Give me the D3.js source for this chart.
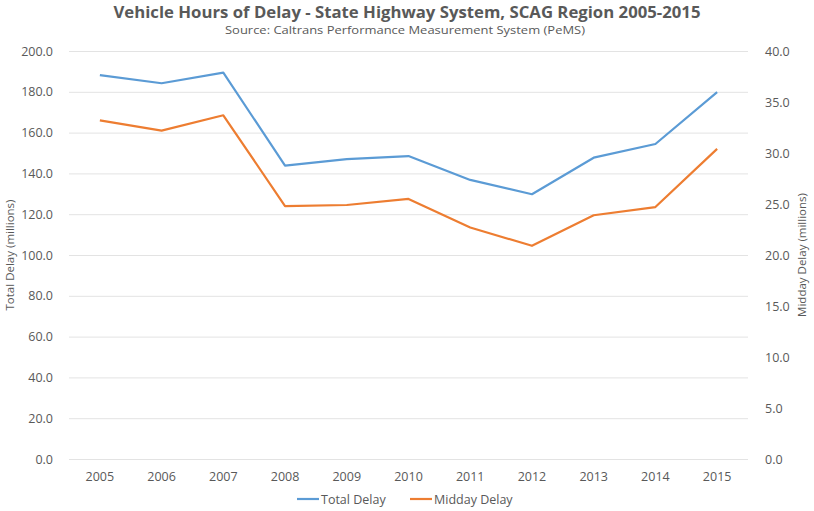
<!DOCTYPE html>
<html>
<head>
<meta charset="utf-8">
<script src="https://cdn.jsdelivr.net/npm/d3@7"></script>
<style>
  body { margin: 0; background: #fff; }
  text { font-family: "Open Sans", "Liberation Sans", sans-serif; fill: #595959; }
</style>
</head>
<body>
<svg id="chart" width="814" height="511"></svg>
<script>
// data
var years = ["2005", "2006", "2007", "2008", "2009", "2010", "2011", "2012", "2013", "2014", "2015"];
var totalDelay = [188.2, 184.2, 189.4, 143.8, 147.0, 148.5, 136.8, 129.8, 147.7, 154.4, 179.8];
var middayDelay = [33.2, 32.2, 33.7, 24.8, 24.9, 25.5, 22.7, 20.9, 23.9, 24.7, 30.4];
var leftTicks = [0, 20, 40, 60, 80, 100, 120, 140, 160, 180, 200];
var rightTicks = [0, 5, 10, 15, 20, 25, 30, 35, 40];

var svg = d3.select("#chart");
var plotLeft = 69, plotRight = 748, plotTop = 51, plotBottom = 459;

var x = d3.scaleBand().domain(years).range([plotLeft, plotRight]);
var yL = d3.scaleLinear().domain([0, 200]).range([plotBottom, plotTop]);
var yR = d3.scaleLinear().domain([0, 40]).range([plotBottom, plotTop]);

// title
svg.append("text").attr("x", 407).attr("y", 18).attr("text-anchor", "middle")
    .attr("font-size", 16.5).attr("font-weight", "bold")
    .attr("textLength", 587).attr("lengthAdjust", "spacingAndGlyphs")
    .text("Vehicle Hours of Delay - State Highway System, SCAG Region 2005-2015");
svg.append("text").attr("x", 405).attr("y", 33.5).attr("text-anchor", "middle")
    .attr("font-size", 10.5)
    .attr("textLength", 360).attr("lengthAdjust", "spacingAndGlyphs")
    .text("Source: Caltrans Performance Measurement System (PeMS)");

// gridlines
svg.append("g").selectAll("line").data(leftTicks).enter().append("line")
    .attr("x1", plotLeft).attr("x2", plotRight)
    .attr("y1", function(d) { return yL(d) + 0.5; })
    .attr("y2", function(d) { return yL(d) + 0.5; })
    .attr("stroke", "#e3e3e3").attr("stroke-width", 1);

// left axis
var gl = svg.append("g").attr("transform", "translate(" + (plotLeft - 13) + ",0)")
    .call(d3.axisLeft(yL).tickValues(leftTicks).tickFormat(d3.format(".1f")).tickSize(0));
gl.select(".domain").remove();
gl.selectAll("text").attr("font-size", 12.5).attr("fill", "#595959")
    .style("font-family", "'Open Sans', sans-serif");

// right axis
var gr = svg.append("g").attr("transform", "translate(" + (plotRight + 14) + ",0)")
    .call(d3.axisRight(yR).tickValues(rightTicks).tickFormat(d3.format(".1f")).tickSize(0));
gr.select(".domain").remove();
gr.selectAll("text").attr("font-size", 12.5).attr("fill", "#595959")
    .style("font-family", "'Open Sans', sans-serif");

// x axis
var gx = svg.append("g").attr("transform", "translate(0," + (plotBottom + 10) + ")")
    .call(d3.axisBottom(x).tickSize(0));
gx.select(".domain").remove();
gx.selectAll("text").attr("font-size", 12.5).attr("fill", "#595959")
    .style("font-family", "'Open Sans', sans-serif");

// axis titles
svg.append("text").attr("transform", "translate(14,255) rotate(-90)")
    .attr("text-anchor", "middle").attr("font-size", 11.5)
    .text("Total Delay (millions)");
svg.append("text").attr("transform", "translate(806,255) rotate(-90)")
    .attr("text-anchor", "middle").attr("font-size", 11.5)
    .text("Midday Delay (millions)");

// lines
var cx = function(i) { return x(years[i]) + x.bandwidth() / 2; };
var lineL = d3.line().x(function(d, i) { return cx(i); }).y(function(d) { return yL(d); });
var lineR = d3.line().x(function(d, i) { return cx(i); }).y(function(d) { return yR(d); });

svg.append("path").datum(totalDelay).attr("d", lineL)
    .attr("fill", "none").attr("stroke", "#5b9bd5").attr("stroke-width", 2.2)
    .attr("stroke-linejoin", "round");
svg.append("path").datum(middayDelay).attr("d", lineR)
    .attr("fill", "none").attr("stroke", "#ed7d31").attr("stroke-width", 2.2)
    .attr("stroke-linejoin", "round");

// legend
var legend = [
    {name: "Total Delay", color: "#5b9bd5", x: 297},
    {name: "Midday Delay", color: "#ed7d31", x: 410}
];
var lg = svg.append("g").selectAll("g").data(legend).enter().append("g")
    .attr("transform", function(d) { return "translate(" + d.x + ",499)"; });
lg.append("line").attr("x1", 0).attr("x2", 22).attr("y1", 0).attr("y2", 0)
    .attr("stroke", function(d) { return d.color; }).attr("stroke-width", 2.2);
lg.append("text").attr("x", 24).attr("y", 4.5).attr("font-size", 12.5)
    .text(function(d) { return d.name; });
</script>
</body>
</html>
